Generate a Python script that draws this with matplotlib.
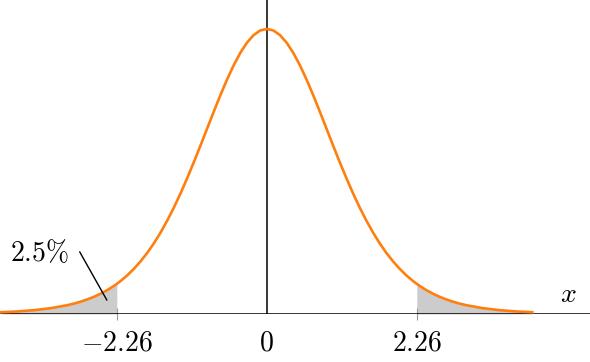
import numpy as np
import matplotlib
matplotlib.use('Agg')
import matplotlib.pyplot as plt

plt.rcParams['mathtext.fontset'] = 'cm'
plt.rcParams['font.family'] = ['DejaVu Serif']

# t density (9 d.o.f.), right half; the curve is symmetric
x_half = [0.0, 0.1, 0.2, 0.3, 0.4, 0.5, 0.6, 0.7, 0.8, 0.9, 1.0, 1.1, 1.2, 1.3, 1.4,
          1.5, 1.6, 1.7, 1.8, 1.9, 2.0, 2.1, 2.2, 2.26, 2.3, 2.4, 2.5, 2.6, 2.7,
          2.8, 2.9, 3.0, 3.25, 3.5, 3.75, 4.0]
y_half = [0.3880, 0.3859, 0.3795, 0.3692, 0.3553, 0.3384, 0.3189, 0.2977, 0.2752,
          0.2522, 0.2291, 0.2065, 0.1848, 0.1641, 0.1449, 0.1272, 0.1110, 0.0964,
          0.0834, 0.0719, 0.0617, 0.0528, 0.0451, 0.0410, 0.0385, 0.0327, 0.0278,
          0.0236, 0.0200, 0.0169, 0.0143, 0.0121, 0.0080, 0.0053, 0.0035, 0.0024]
x = np.array([-v for v in x_half[:0:-1]] + x_half)
y = np.array(y_half[:0:-1] + y_half)

crit = 2.26
tick_pos = [-crit, 0, crit]
tick_labels = ['$-2.26$', '$0$', '$2.26$']

fig = plt.figure(figsize=(5.9, 3.62), dpi=100)
ax = fig.add_axes([0, 48 / 362, 1, 314 / 362])

ax.fill_between(x, y, where=x <= -crit + 1e-9, color='#cccccc', lw=0)
ax.fill_between(x, y, where=x >= crit - 1e-9, color='#cccccc', lw=0)
ax.plot(x, y, color='#ff7f0e', lw=1.9, zorder=3, solid_joinstyle='round')

ax.axhline(0, color='black', lw=1.1, zorder=2)
ax.axvline(0, color='black', lw=1.1, zorder=2)

ax.set_xlim(-4.02, 4.87)
ax.set_ylim(0, 0.4274)
for s in ax.spines.values():
    s.set_visible(False)
ax.set_yticks([])
ax.set_xticks(tick_pos)
ax.set_xticklabels(tick_labels, fontsize=20)
ax.tick_params(axis='x', direction='inout', length=8, width=0.8, color='#999999', pad=7)
ax.xaxis.get_major_ticks()[1].tick1line.set_visible(False)

ax.text(-3.42, 0.083, r'$2.5\%$', fontsize=20, ha='center', va='center')
ax.plot([-2.818, -2.411], [0.0844, 0.0191], color='black', lw=1, zorder=4)
ax.text(4.54, 0.026, '$x$', fontsize=20, ha='center', va='center')

fig.savefig('out.png', dpi=100)
